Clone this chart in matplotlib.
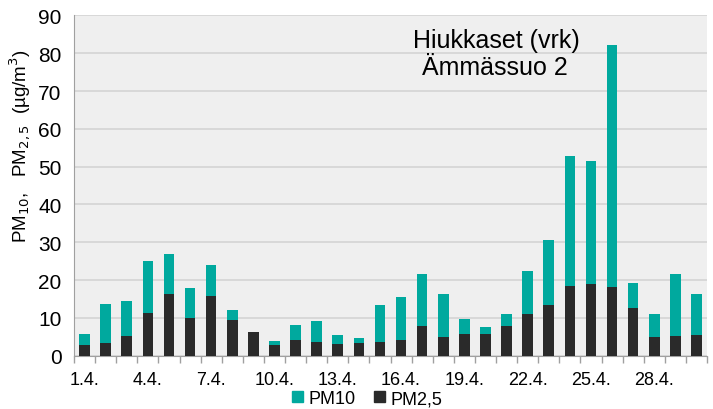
import matplotlib
matplotlib.use("Agg")
import matplotlib.pyplot as plt
from matplotlib.patches import Patch
import numpy as np

plt.rcParams['font.family'] = ['Liberation Sans', 'DejaVu Sans']

days = [f"{d}.4." for d in range(1, 31)]
pm10 = [5.8, 13.8, 14.5, 25.0, 26.9, 18.0, 24.0, 12.1, 6.4, 3.9,
        8.2, 9.2, 5.6, 4.6, 13.5, 15.5, 21.7, 16.2, 9.7, 7.5,
        10.9, 22.5, 30.5, 52.7, 51.5, 82.1, 19.1, 11.1, 21.5, 16.2]
pm25 = [2.9, 3.4, 5.1, 11.4, 16.2, 10.0, 15.8, 9.5, 6.4, 2.7,
        4.2, 3.7, 3.2, 3.4, 3.6, 4.2, 7.9, 5.0, 5.7, 5.7,
        7.8, 10.9, 13.3, 18.4, 19.0, 18.1, 12.6, 4.9, 5.3, 5.6]

teal = '#00A99E'
dark = '#2A2A2A'

fig = plt.figure(figsize=(7.13, 4.10), dpi=100)
ax = fig.add_axes([0.1038, 0.130, 0.8878, 0.830])
ax.set_facecolor('#EFEFEF')

x = np.arange(len(days))
ax.bar(x, pm10, width=0.5, color=teal, zorder=3)
ax.bar(x, pm25, width=0.5, color=dark, zorder=4)

ax.set_xlim(-0.5, len(days) - 0.5)
ax.set_ylim(0, 90)
ax.set_yticks(range(0, 91, 10))
ax.yaxis.grid(True, color='#D4D4D4', linewidth=1.2, zorder=0)
ax.set_axisbelow(True)

ax.set_xticks(x[::3])
ax.set_xticklabels(days[::3], fontsize=13)
ax.set_xticks(np.arange(-0.5, len(days), 1), minor=True)
ax.tick_params(axis='x', which='major', length=0, pad=11)
ax.tick_params(axis='x', which='minor', length=5, color='#A0A0A0', width=1)
ax.tick_params(axis='y', length=0, labelsize=15, pad=9)

for s in ['top', 'right']:
    ax.spines[s].set_visible(False)
ax.spines['left'].set_color('#A0A0A0')
ax.spines['bottom'].set_color('#A0A0A0')

ax.set_ylabel(r'PM$_{10}$,   PM$_{2,5}$  (µg/m$^3$)', fontsize=13.5)
ax.yaxis.set_label_coords(-0.064, 0.62)

ax.text(0.667, 0.9065, 'Hiukkaset (vrk)', transform=ax.transAxes,
        ha='center', va='baseline', fontsize=18, zorder=5)
ax.text(0.6643, 0.828, 'Ämmässuo 2', transform=ax.transAxes,
        ha='center', va='baseline', fontsize=18, zorder=5)

handles = [Patch(color=teal, label='PM10'), Patch(color=dark, label='PM2,5')]
fig.legend(handles=handles, loc='lower center', bbox_to_anchor=(0.515, -0.035),
           ncol=2, frameon=False, fontsize=13, handlelength=0.6, handleheight=0.6,
           handletextpad=0.3, columnspacing=1.0)

fig.savefig('out.png', dpi=100)
